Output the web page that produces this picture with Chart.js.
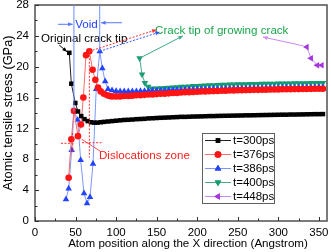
<!DOCTYPE html>
<html><head><meta charset="utf-8">
<script src="https://cdn.jsdelivr.net/npm/chart.js@4/dist/chart.umd.min.js"></script>
<style>html,body{margin:0;padding:0;background:#fff;}</style>
</head><body>
<canvas id="c" width="331" height="252" style="width:331px;height:252px;display:block"></canvas>
<script>
// ---- data ----
const seriesLabels = ['t=300ps', 't=376ps', 't=386ps', 't=400ps', 't=448ps'];
const xTicks = [0, 50, 100, 150, 200, 250, 300, 350];
const yTicks = [0, 4, 8, 12, 16, 20, 24, 28];

const tailX = [95,100,105,110,115,120,125,130,135,140,145,150,155,160,165,170,175,180,185,190,195,200,205,210,215,220,225,230,235,240,245,250,255,260,265,270,275,280,285,290,295,300,305,310,315,320,325,330,335,340,345,350,355];

const x300 = [42.3,44.8,49.7,53,57,61,65,69,73,77,81,85,90];
const y300 = [21.8,17.8,15.3,14.2,13.6,13.2,12.95,12.8,12.75,12.75,12.8,12.85,12.9];
const y300tail = [12.95,13.0,13.05,13.1,13.12,13.15,13.2,13.22,13.25,13.3,13.32,13.35,13.38,13.4,13.42,13.45,13.47,13.5,13.5,13.52,13.54,13.55,13.56,13.58,13.6,13.6,13.62,13.63,13.64,13.65,13.66,13.67,13.68,13.7,13.7,13.71,13.72,13.73,13.74,13.75,13.76,13.77,13.78,13.78,13.8,13.8,13.81,13.82,13.83,13.84,13.85,13.85,13.86];

const x376 = [41.5,44.8,48,53,56.7,59.6,62.9,67,71,74.4,77.7,81,85,89,92];
const y376 = [5.6,10.6,14.3,11.0,12.5,16.0,21.5,22.0,19.6,18.3,17.3,16.8,16.5,16.3,16.2];
const y376tail = [16.15,16.15,16.15,16.2,16.2,16.25,16.3,16.3,16.35,16.4,16.4,16.45,16.5,16.5,16.55,16.6,16.6,16.65,16.7,16.7,16.72,16.75,16.78,16.8,16.82,16.84,16.86,16.88,16.9,16.92,16.93,16.95,16.96,16.97,16.98,17.0,17.0,17.02,17.03,17.04,17.05,17.06,17.07,17.08,17.09,17.1,17.1,17.11,17.12,17.13,17.14,17.15,17.15];

const x386 = [38.2,41.5,45.2,48,52.6,56.3,60.4,64.1,67.8,71.5,75.5,79.8,83,86.5,90];
const y386 = [2.8,4.2,9.2,14.2,13.1,7.9,3.6,2.3,3.1,7.4,17.1,22.0,19.8,18.1,17.1];
const y386tail = [16.95,16.85,16.8,16.8,16.8,16.8,16.82,16.84,16.86,16.88,16.9,16.9,16.92,16.95,16.97,17.0,17.0,17.02,17.04,17.05,17.06,17.08,17.1,17.1,17.12,17.13,17.14,17.15,17.16,17.17,17.18,17.2,17.2,17.21,17.22,17.23,17.24,17.25,17.25,17.26,17.27,17.28,17.28,17.29,17.3,17.3,17.31,17.32,17.32,17.33,17.34,17.35,17.35];

const x400 = [129,132,135.5,139.5,144,150,155,160,165,170,175,180,185,190,195,200,205,210,215,220,225,230,235,240,245,250,255,260,265,270,275,280,285,290,295,300,305,310,315,320,325,330,335,340,345,350,355];
const y400 = [21.1,19.0,17.9,17.4,17.2,17.2,17.22,17.25,17.3,17.33,17.36,17.4,17.43,17.46,17.5,17.52,17.55,17.57,17.6,17.62,17.64,17.66,17.68,17.7,17.71,17.73,17.74,17.75,17.76,17.77,17.78,17.79,17.8,17.81,17.82,17.83,17.84,17.85,17.85,17.86,17.87,17.87,17.88,17.89,17.9,17.9,17.9];

const x448 = [335,340.3,348,353.5];
const y448 = [22.55,21.1,20.2,20.2];

function pts(xa, ya){ return xa.map((x,i)=>({x:x, y:ya[i]})); }

const styles = [
  {line:'#202020', pt:'#000000', style:'rect', r:3.2, rot:0},
  {line:'#ff6a6a', pt:'#ff1414', style:'circle', r:3.3, rot:0},
  {line:'#7b96ff', pt:'#2244ff', style:'triangle', r:3.8, rot:0},
  {line:'#4aa88a', pt:'#179b72', style:'triangle', r:3.8, rot:180},
  {line:'#c58cf0', pt:'#a436e0', style:'triangle', r:3.8, rot:-90}
];
const dataSets = [
  pts(x300.concat(tailX), y300.concat(y300tail)),
  pts(x376.concat(tailX), y376.concat(y376tail)),
  pts(x386.concat(tailX), y386.concat(y386tail)),
  pts(x400, y400),
  pts(x448, y448)
];

const FONT = "'Liberation Sans', Arial, sans-serif";

function arrowHead(ctx, x1, y1, x2, y2, size){
  const a = Math.atan2(y2-y1, x2-x1);
  ctx.beginPath();
  ctx.moveTo(x2, y2);
  ctx.lineTo(x2 - size*Math.cos(a-0.4), y2 - size*Math.sin(a-0.4));
  ctx.lineTo(x2 - size*Math.cos(a+0.4), y2 - size*Math.sin(a+0.4));
  ctx.closePath();
  ctx.fill();
}
function seg(ctx, X, Y, x1, y1, x2, y2, color, dash, head){
  const a1 = X(x1), b1 = Y(y1), a2 = X(x2), b2 = Y(y2);
  ctx.save();
  ctx.strokeStyle = color; ctx.fillStyle = color; ctx.lineWidth = 1;
  ctx.setLineDash(dash || []);
  ctx.beginPath(); ctx.moveTo(a1,b1); ctx.lineTo(a2,b2); ctx.stroke();
  ctx.setLineDash([]);
  if (head) arrowHead(ctx, a1, b1, a2, b2, 5);
  ctx.restore();
}

const decor = {
  id: 'decor',
  afterDatasetsDraw(chart){
    const ctx = chart.ctx, xs = chart.scales.x, ys = chart.scales.y, ca = chart.chartArea;
    const X = v => xs.getPixelForValue(v), Y = v => ys.getPixelForValue(v);
    ctx.save();
    // frame
    ctx.strokeStyle = '#505050'; ctx.lineWidth = 1.5;
    ctx.strokeRect(ca.left, ca.top, ca.right-ca.left, ca.bottom-ca.top);
    // ticks inside
    ctx.lineWidth = 1; ctx.strokeStyle = '#303030';
    ctx.beginPath();
    for (let v = 0; v <= 28; v += 2) {
      const len = (v % 4 === 0) ? 4 : 2.5, py = Math.round(Y(v)) + 0.5;
      ctx.moveTo(ca.left, py); ctx.lineTo(ca.left + len, py);
    }
    for (let v = 0; v <= 350; v += 25) {
      const len = (v % 50 === 0) ? 4 : 2.5, px = Math.round(X(v)) + 0.5;
      ctx.moveTo(px, ca.bottom); ctx.lineTo(px, ca.bottom - len);
    }
    ctx.stroke();

    // annotations
    ctx.font = '11.6px ' + FONT; ctx.textBaseline = 'middle'; ctx.textAlign = 'left';
    ctx.fillStyle = '#000'; ctx.fillText('Original crack tip', X(7.4), Y(23.6));
    seg(ctx, X, Y, 29.9, 22.8, 39.5, 21.95, '#000', null, true);
    // Void
    ctx.fillStyle = '#1f3fff'; ctx.textAlign = 'center';
    ctx.fillText('Void', X(63.5), Y(25.4));
    seg(ctx, X, Y, 48, 28, 48, 14.2, '#6f8cff', null, false);
    seg(ctx, X, Y, 79.8, 28, 79.8, 22.0, '#6f8cff', null, false);
    seg(ctx, X, Y, 28.4, 25.5, 46.5, 25.5, '#5577ff', null, true);
    seg(ctx, X, Y, 107.3, 25.7, 81.4, 25.7, '#5577ff', null, true);
    // crack tip of growing crack
    ctx.textAlign = 'left'; ctx.fillStyle = '#1aa64a';
    ctx.fillText('Crack tip of growing crack', X(148), Y(24.7));
    seg(ctx, X, Y, 67, 22.0, 150, 24.8, '#ff3030', [2,1.5], true);
    seg(ctx, X, Y, 79.8, 22.0, 154, 24.5, '#3355ff', [2,1.5], true);
    seg(ctx, X, Y, 129, 21.1, 182.5, 24.0, '#3fa88a', null, true);
    seg(ctx, X, Y, 331, 22.7, 281, 23.85, '#cc88f0', null, true);
    // dislocations zone
    ctx.fillStyle = '#ff2020';
    ctx.fillText('Dislocations zone', X(78.9), Y(8.5));
    seg(ctx, X, Y, 80.1, 9.07, 57.6, 10.6, '#ff5050', null, false);
    seg(ctx, X, Y, 32, 10.07, 49.3, 10.07, '#ff3030', [2,1.5], false);
    seg(ctx, X, Y, 46.5, 11.4, 46.5, 8.9, '#ff3030', [2,1.5], false);
    seg(ctx, X, Y, 58, 10.15, 82.6, 10.15, '#ff3030', [2,1.5], false);
    seg(ctx, X, Y, 67, 22.0, 67, 8.2, '#ff3030', [2,1.5], false);

    // legend
    const lx = 202, ly = 133, lw = 72, lh = 70;
    ctx.fillStyle = '#fff'; ctx.fillRect(lx, ly, lw, lh);
    ctx.strokeStyle = '#606060'; ctx.lineWidth = 1;
    ctx.strokeRect(lx + 0.5, ly + 0.5, lw, lh);
    ctx.font = '11.5px ' + FONT; ctx.textAlign = 'left'; ctx.textBaseline = 'middle';
    seriesLabels.forEach((lab, i) => {
      const s = styles[i], yy = ly + 7.5 + i * 14;
      ctx.strokeStyle = s.line; ctx.lineWidth = 1;
      ctx.beginPath(); ctx.moveTo(lx + 3, yy); ctx.lineTo(lx + 29, yy); ctx.stroke();
      ctx.fillStyle = s.pt;
      Chart.helpers.drawPoint(ctx, {pointStyle: s.style, radius: s.r, rotation: s.rot, borderWidth: 0}, lx + 16, yy);
      ctx.fill();
      ctx.fillStyle = '#000';
      ctx.fillText(lab, lx + 31, yy + 0.5);
    });

    // axis titles
    ctx.fillStyle = '#000'; ctx.textAlign = 'center'; ctx.textBaseline = 'middle';
    ctx.font = '11.6px ' + FONT;
    ctx.fillText('Atom position along the X direction (Angstrom)', (ca.left + ca.right)/2 + 7, 243.5);
    ctx.save();
    ctx.font = '12.8px ' + FONT;
    ctx.translate(8.5, (ca.top + ca.bottom)/2);
    ctx.rotate(-Math.PI/2);
    ctx.fillText('Atomic tensile stress (GPa)', 0, 0);
    ctx.restore();
    ctx.restore();
  }
};

new Chart(document.getElementById('c'), {
  type: 'scatter',
  data: {
    datasets: dataSets.map((d, i) => ({
      label: seriesLabels[i],
      data: d,
      showLine: true,
      borderColor: styles[i].line,
      borderWidth: 1,
      backgroundColor: styles[i].pt,
      pointBackgroundColor: styles[i].pt,
      pointBorderColor: styles[i].pt,
      pointBorderWidth: 0,
      pointStyle: styles[i].style,
      pointRotation: styles[i].rot,
      pointRadius: styles[i].r,
      tension: 0,
      clip: 6,
      order: i
    }))
  },
  options: {
    responsive: false,
    animation: false,
    devicePixelRatio: 1,
    layout: { padding: { top: 5, right: 4, left: 0, bottom: 0 } },
    plugins: { legend: { display: false }, tooltip: { enabled: false } },
    scales: {
      x: {
        type: 'linear', min: 0, max: 360,
        afterFit(s){ s.height = 31; s.paddingLeft = 0; s.paddingRight = 0; },
        afterBuildTicks(s){ s.ticks = xTicks.map(v => ({value: v})); },
        grid: { display: false, drawTicks: false },
        border: { display: false },
        ticks: { color: '#000', font: { family: FONT, size: 11.5 }, padding: 5, maxRotation: 0 }
      },
      y: {
        type: 'linear', min: 0, max: 28,
        afterFit(s){ s.width = 35; s.paddingTop = 0; s.paddingBottom = 0; },
        afterBuildTicks(s){ s.ticks = yTicks.map(v => ({value: v})); },
        grid: { display: false, drawTicks: false },
        border: { display: false },
        ticks: { color: '#000', font: { family: FONT, size: 11.5 }, padding: 6 }
      }
    }
  },
  plugins: [decor]
});
</script>
</body></html>
